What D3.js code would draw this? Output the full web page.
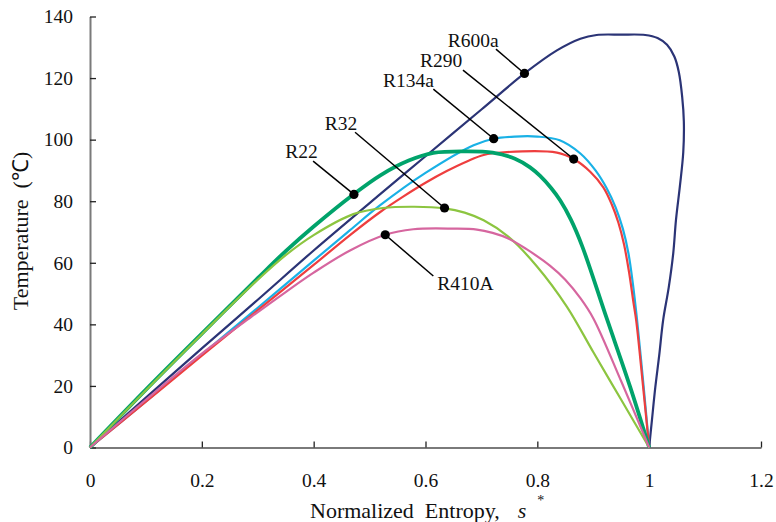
<!DOCTYPE html>
<html>
<head>
<meta charset="utf-8">
<script src="https://cdn.jsdelivr.net/npm/d3@7"></script>
<style>
  html, body { margin: 0; padding: 0; background: #fff; }
  svg { display: block; }
</style>
</head>
<body>
<div id="chart"></div>
<script>
// ---- data: [normalized entropy s*, temperature °C] ----
const R600a = [[0,0],[0.1,16.2],[0.2,32.2],[0.3,48],[0.4,64],[0.519,82.3],[0.6,94.6],[0.7,109.8],[0.777,121.5],[0.835,129],[0.877,132.8],[0.906,134],[0.95,134.1],[0.993,134],[1.015,133],[1.032,130.8],[1.045,127],[1.053,122],[1.059,114],[1.062,106],[1.061,96],[1.055,85],[1.048,74],[1.043,63],[1.035,52],[1.025,41.4],[1.018,30],[1.011,19.6],[1.005,9],[1,0]];
const R134a = [[0,0],[0.1,15],[0.2,30.2],[0.3,45.4],[0.4,60.7],[0.465,70.6],[0.519,78.7],[0.6,89.2],[0.686,98.2],[0.722,100.3],[0.76,101],[0.8,101],[0.84,99.8],[0.877,95.5],[0.904,90],[0.924,84.2],[0.94,78],[0.953,71],[0.963,63],[0.971,53],[0.978,42],[0.99,20],[1,0]];
const R290 = [[0,0],[0.1,14.9],[0.2,29.8],[0.3,44.6],[0.4,59.3],[0.465,69],[0.519,76.5],[0.56,81.5],[0.6,86],[0.638,89.8],[0.675,93],[0.704,95],[0.74,95.9],[0.835,95.8],[0.865,93.7],[0.895,89.5],[0.918,84.5],[0.933,79],[0.945,73],[0.955,66],[0.964,57],[0.972,47],[0.977,41],[0.989,20],[1,0]];
const R22 = [[0,0],[0.1,18.8],[0.2,37],[0.3,55],[0.35,63.8],[0.4,71.8],[0.471,82.2],[0.52,88.5],[0.57,93.2],[0.614,95.7],[0.67,96.2],[0.72,95.8],[0.76,93.8],[0.787,91],[0.805,88.2],[0.825,84.2],[0.841,80.2],[0.86,74],[0.88,65.5],[0.924,42],[0.966,19.7],[1,0]];
const R32 = [[0,0],[0.1,18.6],[0.2,36.8],[0.3,54.5],[0.35,62.5],[0.4,69],[0.471,75.8],[0.524,77.8],[0.58,78.2],[0.634,77.7],[0.67,76.3],[0.704,73.8],[0.748,68.5],[0.799,58.9],[0.853,45.7],[0.9,31],[0.95,15.5],[1,0]];
const R410A = [[0,0],[0.1,15.5],[0.2,30.5],[0.289,42.5],[0.35,50.5],[0.4,56.8],[0.465,64],[0.528,69.1],[0.578,70.9],[0.65,71.1],[0.692,70.8],[0.72,69.7],[0.748,67.9],[0.78,64.5],[0.823,59],[0.85,54.5],[0.877,48.5],[0.9,42],[0.95,21.5],[1,0]];

const seriesNames = ["R600a","R134a","R290","R22","R32","R410A"];
const seriesData  = [R600a, R134a, R290, R22, R32, R410A];
const seriesColors = ["#2b3476","#19b1e6","#ee3e3e","#00a36b","#8cc540","#d6669f"];
const seriesWidths = [2.2, 2.2, 2.2, 3.8, 2.2, 2.2];

// annotations: marker point, leader start, label anchor (all in data units)
const labelNames  = ["R600a","R290","R134a","R32","R22","R410A"];
const markerPts   = [[0.777,121.5],[0.865,93.7],[0.722,100.3],[0.634,77.8],[0.472,82.2],[0.528,69.1]];
const leaderEnds  = [[0.726,129.4],[0.667,122.6],[0.614,116.4],[0.474,102.4],[0.399,93.0],[0.614,55.7]];
const labelPos    = [[0.640,130.1],[0.590,123.6],[0.524,117.1],[0.420,103.1],[0.349,94.0],[0.621,51.1]];

const xTicks = [0,0.2,0.4,0.6,0.8,1,1.2];
const yTicks = [0,20,40,60,80,100,120,140];

// ---- layout ----
const W = 776, H = 522;
const m = {left: 90, right: 15, top: 16.5, bottom: 74.5};
const FONT = "'Liberation Serif', 'Times New Roman', serif";

const svg = d3.select("#chart").append("svg").attr("width", W).attr("height", H)
  .style("font-family", FONT);

const x = d3.scaleLinear().domain([0, 1.2]).range([m.left, W - m.right]);
const y = d3.scaleLinear().domain([0, 140]).range([H - m.bottom, m.top]);

const axisColor = "#7a7a7a";

// x axis
const gx = svg.append("g").attr("transform", `translate(0,${y(0)})`)
  .call(d3.axisBottom(x).tickValues(xTicks).tickSizeInner(-6).tickSizeOuter(0)
        .tickFormat(d => String(+d.toFixed(1))).tickPadding(26));
gx.select(".domain").attr("stroke", axisColor).attr("stroke-width", 2);
gx.selectAll(".tick line").attr("stroke", "#222").attr("stroke-width", 1.3);
gx.selectAll(".tick text").style("font-family", FONT).style("font-size", "19.5px").attr("fill", "#111");

// y axis
const gy = svg.append("g").attr("transform", `translate(${x(0)},0)`)
  .call(d3.axisLeft(y).tickValues(yTicks).tickSizeInner(-6).tickSizeOuter(0).tickPadding(17));
gy.select(".domain").attr("stroke", axisColor).attr("stroke-width", 2);
gy.selectAll(".tick line").attr("stroke", "#222").attr("stroke-width", 1.3);
gy.selectAll(".tick text").style("font-family", FONT).style("font-size", "19.5px").attr("fill", "#111");

// curves
const line = d3.line().x(d => x(d[0])).y(d => y(d[1])).curve(d3.curveCatmullRom.alpha(0.5));
svg.append("g").selectAll("path").data(seriesData).join("path")
  .attr("d", line)
  .attr("fill", "none")
  .attr("stroke", (d, i) => seriesColors[i])
  .attr("stroke-width", (d, i) => seriesWidths[i])
  .attr("stroke-linejoin", "round");

// leaders, markers, labels
const ann = svg.append("g");
labelNames.forEach((name, i) => {
  ann.append("line")
    .attr("x1", x(leaderEnds[i][0])).attr("y1", y(leaderEnds[i][1]))
    .attr("x2", x(markerPts[i][0])).attr("y2", y(markerPts[i][1]))
    .attr("stroke", "#000").attr("stroke-width", 1.5);
  ann.append("circle")
    .attr("cx", x(markerPts[i][0])).attr("cy", y(markerPts[i][1]))
    .attr("r", 4.6).attr("fill", "#000");
  ann.append("text")
    .attr("x", x(labelPos[i][0])).attr("y", y(labelPos[i][1]))
    .style("font-family", FONT)
    .style("font-size", "19.5px")
    .attr("fill", "#111")
    .text(name);
});

// axis titles
const xt = svg.append("text")
  .attr("x", 310).attr("y", 518)
  .style("font-family", FONT)
  .style("font-size", "22px")
  .attr("fill", "#111")
  .style("white-space", "pre");
xt.append("tspan").text("Normalized  Entropy,");
xt.append("tspan").attr("dx", 18).style("font-style", "italic").text("s");
xt.append("tspan").attr("dx", 11).attr("dy", -13).style("font-size", "14px").text("*");

svg.append("text")
  .attr("transform", `translate(28,231) rotate(-90)`)
  .attr("text-anchor", "middle")
  .style("font-family", FONT)
  .style("font-size", "22px")
  .attr("fill", "#111")
  .style("white-space", "pre")
  .text("Temperature  (℃)");
</script>
</body>
</html>
